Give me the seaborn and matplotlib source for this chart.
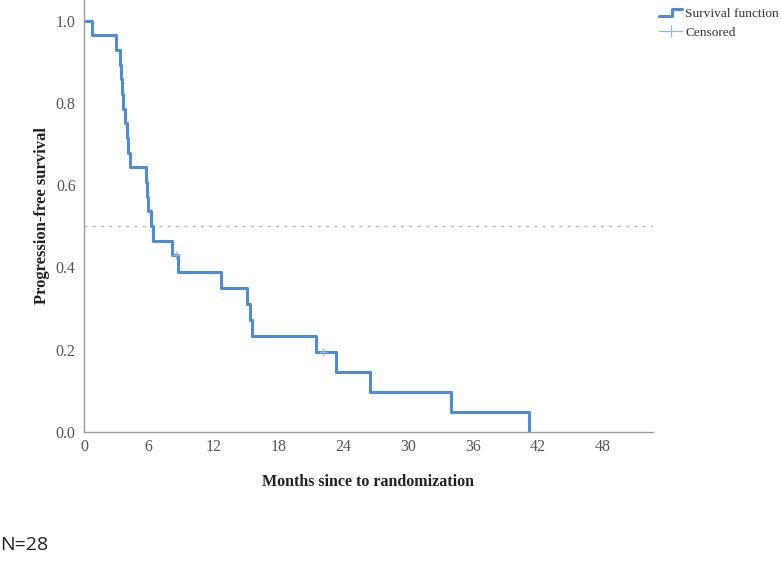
import numpy as np
import pandas as pd
import matplotlib
matplotlib.use("Agg")
import matplotlib.pyplot as plt
from matplotlib.lines import Line2D
from matplotlib.legend_handler import HandlerBase
import seaborn as sns

# Kaplan-Meier steps (N=28)
event_months = [0.77, 2.96, 3.33, 3.45, 3.55, 3.65, 3.80, 3.95, 4.10, 4.26,
                5.70, 5.85, 5.95, 6.17, 6.35, 8.17, 8.70, 12.70, 15.10, 15.40,
                15.60, 21.45, 23.30, 26.50, 34.00, 41.20]
survival = [0.964, 0.929, 0.893, 0.857, 0.821, 0.786, 0.750, 0.714, 0.679, 0.643,
            0.607, 0.571, 0.536, 0.500, 0.464, 0.429, 0.390, 0.351, 0.312, 0.273,
            0.234, 0.195, 0.146, 0.097, 0.049, 0.0]
censor_months = [8.5, 22.1]
censor_surv = [0.429, 0.195]
x_ticks = [0, 6, 12, 18, 24, 30, 36, 42, 48]
y_ticks = [0.0, 0.2, 0.4, 0.6, 0.8, 1.0]

curve = pd.DataFrame({"month": [0.0] + event_months, "surv": [1.0] + survival})
cens = pd.DataFrame({"month": censor_months, "surv": censor_surv})

sns.set_style("white")
plt.rcParams["font.family"] = ["Liberation Serif", "DejaVu Serif"]

line_col = "#4f8bd6"
cens_col = "#8fb6e6"

fig = plt.figure(figsize=(7.81, 5.63), dpi=100)
ax = fig.add_axes([84 / 781, 1 - 432 / 563, (653 - 84) / 781, 432 / 563])

sns.lineplot(data=curve, x="month", y="surv", ax=ax, estimator=None, sort=False,
             drawstyle="steps-post", color=line_col, linewidth=2.2)
sns.scatterplot(data=cens, x="month", y="surv", ax=ax, marker="+", s=40,
                color=cens_col, linewidth=0.9, zorder=3)
ax.axhline(0.5, color="#b0b0b0", linestyle=(0, (2, 4)), linewidth=1.0, zorder=1)

ax.set_xlim(0, 52.7)
ax.set_ylim(0, 1.05)
ax.set_xticks(x_ticks)
ax.set_yticks(y_ticks)
ax.set_yticklabels([f"{v:.1f}" for v in y_ticks])
ax.tick_params(axis="both", labelsize=11.5, colors="#555555", length=3, width=0.8,
               pad=3, direction="out")
ax.tick_params(axis="x", length=0, pad=5)
for s in ["top", "right"]:
    ax.spines[s].set_visible(False)
for s in ["left", "bottom"]:
    ax.spines[s].set_color("#9a9a9a")
    ax.spines[s].set_linewidth(1.0)

ax.set_xlabel("Months since to randomization", fontsize=11.5, fontweight="bold",
              color="#222222", labelpad=14)
ax.set_ylabel("Progression-free survival", fontsize=12, fontweight="bold",
              color="#222222", labelpad=4)


class StepHandler(HandlerBase):
    def create_artists(self, legend, orig_handle, xdescent, ydescent, width,
                       height, fontsize, trans):
        xs = np.array([0, 0.55, 0.55, 1.0]) * width - xdescent
        ys = np.array([0.15, 0.15, 0.85, 0.85]) * height - ydescent
        ln = Line2D(xs, ys, color=line_col, linewidth=2.2, transform=trans)
        return [ln]


surv_handle = Line2D([], [], color=line_col)
cens_handle = Line2D([], [], color=cens_col, marker="|", markersize=9,
                     linewidth=0.9, markeredgewidth=0.9)
fig.legend([surv_handle, cens_handle], ["Survival function", "Censored"],
           handler_map={surv_handle: StepHandler()},
           loc="upper left", bbox_to_anchor=(655 / 781, 0.993), frameon=False,
           fontsize=9.6, handlelength=1.75, handletextpad=0.2, labelspacing=0.45,
           labelcolor="#333333", borderaxespad=0, borderpad=0.3)

fig.text(0.0, 1 - 545 / 563, "N=28", fontsize=14, family="Open Sans",
         va="center", ha="left", color="#222222")

fig.savefig("out.png", dpi=100)
